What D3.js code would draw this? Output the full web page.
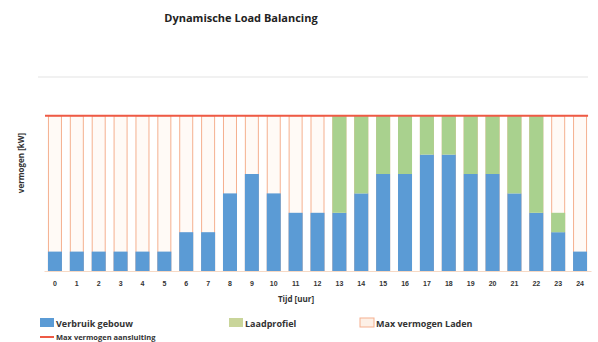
<!DOCTYPE html>
<html>
<head>
<meta charset="utf-8">
<script src="https://cdn.jsdelivr.net/npm/d3@7"></script>
<style>
  html, body { margin: 0; padding: 0; background: #fff; }
  svg { display: block; font-family: "Open Sans", "Liberation Sans", sans-serif; }
</style>
</head>
<body>
<svg id="chart" width="598" height="342"></svg>
<script>
// Hourly power profile (kW) for dynamic load balancing
const hours = ["0","1","2","3","4","5","6","7","8","9","10","11","12","13","14","15","16","17","18","19","20","21","22","23","24"];
const verbruikGebouw = [1,1,1,1,1,1,2,2,4,5,4,3,3,3,4,5,5,6,6,5,5,4,3,2,1];
const laadprofiel    = [0,0,0,0,0,0,0,0,0,0,0,0,0,5,4,3,3,2,2,3,3,4,5,1,0];
const maxVermogenLaden = [8,8,8,8,8,8,8,8,8,8,8,8,8,8,8,8,8,8,8,8,8,8,8,8,8];
const maxAansluiting = 8;
const yMax = 10;

const title = "Dynamische Load Balancing";
const yTitle = "vermogen [kW]";
const xTitle = "Tijd [uur]";
const seriesNames = ["Verbruik gebouw", "Laadprofiel", "Max vermogen Laden", "Max vermogen aansluiting"];

const colors = {
  blue: "#5b9bd5",
  green: "#a9d18e",
  peachFill: "#fffaf6",
  peachStroke: "#f5b08f",
  red: "#ee5a45",
  grid: "#e3e3e3",
  text: "#333"
};

const svg = d3.select("#chart");
const margin = { left: 44, right: 7, top: 77, bottom: 71 };
const W = 598, H = 342;

const x = d3.scaleBand()
  .domain(hours)
  .range([margin.left, W - margin.right])
  .paddingInner(0.36)
  .paddingOuter(0.18);

const y = d3.scaleLinear()
  .domain([0, yMax])
  .range([H - margin.bottom, margin.top]);

// light gridline at the top of the value range
svg.append("line")
  .attr("x1", 38).attr("x2", W - 10)
  .attr("y1", y(yMax)).attr("y2", y(yMax))
  .attr("stroke", colors.grid).attr("stroke-width", 1);

// max charging capacity: outlined bars behind the data
svg.append("g").selectAll("rect")
  .data(hours)
  .join("rect")
  .attr("x", d => x(d) + 0.5)
  .attr("width", x.bandwidth() - 1)
  .attr("y", (d, i) => y(maxVermogenLaden[i]))
  .attr("height", (d, i) => y(0) - y(maxVermogenLaden[i]))
  .attr("fill", colors.peachFill)
  .attr("stroke", colors.peachStroke)
  .attr("stroke-width", 1);

// building consumption
svg.append("g").selectAll("rect")
  .data(hours)
  .join("rect")
  .attr("x", d => x(d))
  .attr("width", x.bandwidth())
  .attr("y", (d, i) => y(verbruikGebouw[i]))
  .attr("height", (d, i) => y(0) - y(verbruikGebouw[i]))
  .attr("fill", colors.blue);

// charging profile stacked on top
svg.append("g").selectAll("rect")
  .data(hours)
  .join("rect")
  .attr("x", d => x(d))
  .attr("width", x.bandwidth())
  .attr("y", (d, i) => y(verbruikGebouw[i] + laadprofiel[i]))
  .attr("height", (d, i) => y(verbruikGebouw[i]) - y(verbruikGebouw[i] + laadprofiel[i]))
  .attr("fill", colors.green);

// connection capacity line
svg.append("line")
  .attr("x1", margin.left + 1).attr("x2", x("24") + x.bandwidth() + 1)
  .attr("y1", y(maxAansluiting)).attr("y2", y(maxAansluiting))
  .attr("stroke", colors.red).attr("stroke-width", 2);

// x axis
const xAxis = svg.append("g")
  .attr("transform", `translate(0,${y(0)})`)
  .call(d3.axisBottom(x).tickSize(0).tickPadding(10));
xAxis.select(".domain").attr("stroke", "#f7d9c4");
xAxis.selectAll("text")
  .attr("fill", colors.text)
  .style("font-size", "7px")
  .style("font-weight", "bold");

// titles
svg.append("text")
  .attr("x", 241).attr("y", 22)
  .attr("text-anchor", "middle")
  .style("font-size", "11px").style("font-weight", "bold")
  .attr("fill", "#222")
  .text(title);

svg.append("text")
  .attr("transform", `translate(24,${163}) rotate(-90)`)
  .attr("text-anchor", "middle")
  .style("font-size", "8px").style("font-weight", "bold")
  .attr("fill", colors.text)
  .text(yTitle);

svg.append("text")
  .attr("x", 296).attr("y", 302)
  .attr("text-anchor", "middle")
  .style("font-size", "8px").style("font-weight", "bold")
  .attr("fill", colors.text)
  .text(xTitle);

// legend
const legendItems = [
  { name: seriesNames[0], x: 40, fill: colors.blue, stroke: "none" },
  { name: seriesNames[1], x: 229, fill: "#c9d59a", stroke: "none" },
  { name: seriesNames[2], x: 360, fill: "#fdf0e6", stroke: colors.peachStroke }
];
const lg = svg.append("g").selectAll("g")
  .data(legendItems)
  .join("g")
  .attr("transform", d => `translate(${d.x},318)`);
lg.append("rect")
  .attr("width", 14).attr("height", 9)
  .attr("fill", d => d.fill)
  .attr("stroke", d => d.stroke);
lg.append("text")
  .attr("x", 16).attr("y", 8.5)
  .style("font-size", "9px").style("font-weight", "bold")
  .attr("fill", colors.text)
  .text(d => d.name);

// second legend row: connection capacity line
const lg2 = svg.append("g").attr("transform", "translate(40,333)");
lg2.append("line")
  .attr("x1", 0).attr("x2", 14).attr("y1", 4).attr("y2", 4)
  .attr("stroke", colors.red).attr("stroke-width", 2);
lg2.append("text")
  .attr("x", 16).attr("y", 6.5)
  .style("font-size", "7.5px").style("font-weight", "bold")
  .attr("fill", colors.text)
  .text(seriesNames[3]);
</script>
</body>
</html>
